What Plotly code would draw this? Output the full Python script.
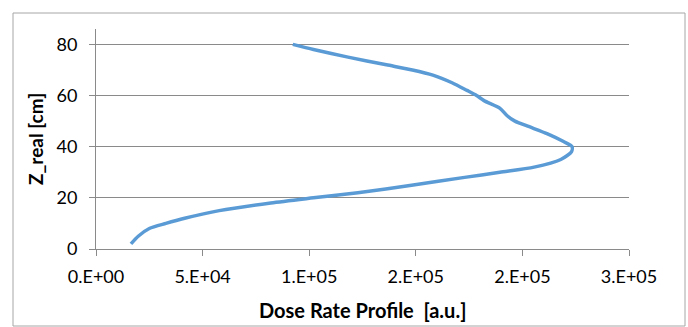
import plotly.graph_objects as go

# Data
z_cm = [2, 5, 8, 10, 12, 15, 18, 20, 22, 25, 28, 30, 32, 35, 38, 40, 42, 45, 48, 50,
        52, 55, 58, 60, 62, 65, 68, 70, 72, 75, 78, 80]
dose_rate = [16400, 19800, 25000, 32800, 41600, 57800, 82000, 102000, 122800, 148800, 172900,
             189400, 205500, 218000, 223000, 223300, 219300, 211800, 202500, 196500,
             193000, 189500, 182000, 178500, 174000, 167000, 158000, 148400, 136200, 118200,
             102000, 92300]

x_tickvals = [0, 50000, 100000, 150000, 200000, 250000]
x_ticktext = ["0.E+00", "5.E+04", "1.E+05", "2.E+05", "2.E+05", "3.E+05"]
y_tickvals = [0, 20, 40, 60, 80]

W, H = 688, 327
ML, MR, MT, MB = 96, 59, 29, 78
PW, PH = W - ML - MR, H - MT - MB

FONT = "Lato, 'Open Sans', sans-serif"
GRID = "#8a8a8a"

fig = go.Figure()
fig.add_trace(go.Scatter(
    x=dose_rate, y=z_cm, mode="lines",
    line=dict(color="#5B9BD5", width=3.5, shape="spline", smoothing=0.7),
    hoverinfo="skip", showlegend=False,
))

def px_to_paper_x(px):
    return (px - ML) / PW

def px_to_paper_y(py):
    return (H - MB - py) / PH

fig.update_layout(
    width=W, height=H,
    margin=dict(l=ML, r=MR, t=MT, b=MB, pad=0),
    paper_bgcolor="white", plot_bgcolor="white",
    font=dict(family=FONT, size=18, color="#000000"),
    xaxis=dict(
        range=[0, 250000], tickvals=x_tickvals, ticktext=x_ticktext,
        showgrid=False, zeroline=False,
        showline=True, linecolor=GRID, linewidth=1,
        ticks="outside", ticklen=6, tickcolor=GRID, tickwidth=1,
        ticklabelstandoff=5,
        tickfont=dict(family=FONT, size=18, color="#000000"),
    ),
    yaxis=dict(
        range=[0, 86], tickvals=y_tickvals,
        showgrid=True, gridcolor=GRID, gridwidth=1,
        zeroline=False,
        showline=True, linecolor=GRID, linewidth=1,
        ticks="outside", ticklen=6, tickcolor=GRID, tickwidth=1,
        ticklabelstandoff=8,
        tickfont=dict(family=FONT, size=18, color="#000000"),
    ),
    shapes=[dict(
        type="rect", xref="paper", yref="paper",
        x0=px_to_paper_x(13), x1=px_to_paper_x(685),
        y0=px_to_paper_y(326), y1=px_to_paper_y(13),
        line=dict(color="#a6a6a6", width=1), fillcolor="rgba(0,0,0,0)",
        layer="below",
    )],
    annotations=[
        dict(text="<b>Dose Rate Profile  [a.u.]</b>", xref="paper", yref="paper",
             x=px_to_paper_x(362), y=px_to_paper_y(310), showarrow=False,
             xanchor="center", yanchor="middle",
             font=dict(family=FONT, size=20, color="#000000")),
        dict(text="<b>Z_real [cm]</b>", xref="paper", yref="paper",
             x=px_to_paper_x(35), y=px_to_paper_y(139), showarrow=False,
             xanchor="center", yanchor="middle", textangle=-90,
             font=dict(family=FONT, size=19, color="#000000")),
    ],
)

fig.write_html("out.html")
